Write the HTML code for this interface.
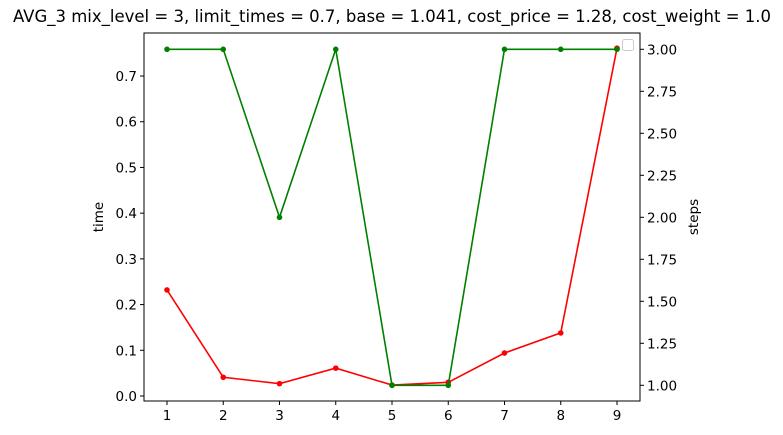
<!DOCTYPE html>
<html><head><meta charset="utf-8"><style>body{margin:0;background:#fff}svg{display:block;font-family:"DejaVu Sans","Liberation Sans",sans-serif}</style></head>
<body>
<svg id="c" width="783" height="435"></svg>
<script>
const categories=[1,2,3,4,5,6,7,8,9];
const timeValues=[0.232,0.041,0.027,0.061,0.024,0.030,0.094,0.138,0.761];
const stepsValues=[3,3,2,3,1,1,3,3,3];
const leftTicks=[0.0,0.1,0.2,0.3,0.4,0.5,0.6,0.7];
const rightTicks=[1.00,1.25,1.50,1.75,2.00,2.25,2.50,2.75,3.00];
const L=144,R=640,T=33,B=401;
const X=v=>167+(v-1)*56.25;
const YL=v=>396-v*457.1;
const YR=v=>385.3-(v-1)*168;
const svg=document.getElementById('c');const NS='http://www.w3.org/2000/svg';
function el(t,a,txt){const e=document.createElementNS(NS,t);for(const k in a)e.setAttribute(k,a[k]);if(txt!==undefined)e.textContent=txt;svg.appendChild(e);return e;}
let e;
e=el('text',{x:392,y:22,'text-anchor':'middle','font-size':16.5},'AVG_3 mix_level = 3, limit_times = 0.7, base = 1.041, cost_price = 1.28, cost_weight = 1.0');

categories.forEach(c=>{
 el('line',{x1:X(c),x2:X(c),y1:B,y2:B+4,stroke:'#000'});
 e=el('text',{x:X(c),y:B+19,'text-anchor':'middle','font-size':13.5},c);
 
});
leftTicks.forEach(v=>{
 el('line',{x1:L-4,x2:L,y1:YL(v),y2:YL(v),stroke:'#000'});
 e=el('text',{x:L-7,y:YL(v)+5,'text-anchor':'end','font-size':13.5},v.toFixed(1));
 
});
rightTicks.forEach(v=>{
 el('line',{x1:R,x2:R+4,y1:YR(v),y2:YR(v),stroke:'#000'});
 e=el('text',{x:R+7,y:YR(v)+5,'font-size':13.5},v.toFixed(2));
 
});
e=el('text',{x:103,y:217,'text-anchor':'middle','font-size':13.5,transform:'rotate(-90 103 217)'},'time');

e=el('text',{x:698,y:217,'text-anchor':'middle','font-size':13.5,transform:'rotate(-90 698 217)'},'steps');

function series(vals,Y,col,name){
 e=el('polyline',{points:vals.map((v,i)=>X(categories[i])+','+Y(v)).join(' '),fill:'none',stroke:col,'stroke-width':1.6});
 
 vals.forEach((v,i)=>{e=el('circle',{cx:X(categories[i]),cy:Y(v),r:2.8,fill:col});
 });
}
series(timeValues,YL,'#ff0000','time');
series(stepsValues,YR,'#008000','steps');
e=el('rect',{x:L,y:T,width:R-L,height:B-T,fill:'none',stroke:'#000','stroke-width':1});

e=el('rect',{x:622.5,y:39.5,width:11,height:11,fill:'#fff',stroke:'#ccc','stroke-width':1,rx:2});

</script>
</body></html>
